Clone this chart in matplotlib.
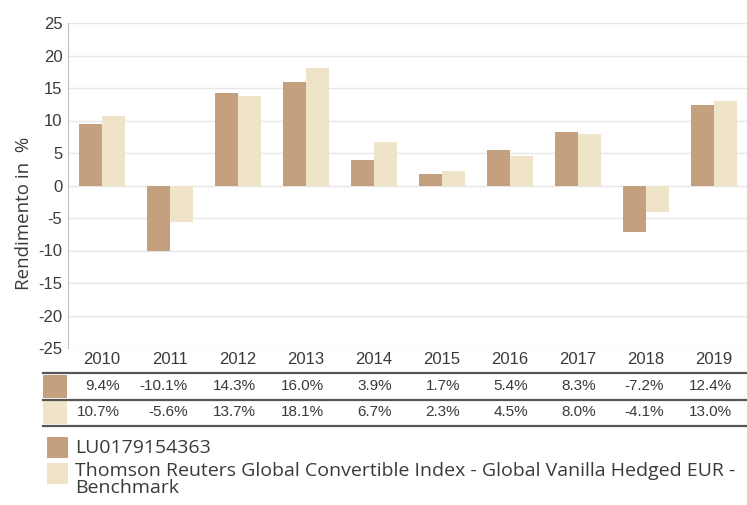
import numpy as np
import matplotlib
matplotlib.use("Agg")
import matplotlib.pyplot as plt
from matplotlib.patches import Rectangle
from matplotlib.lines import Line2D
import matplotlib.transforms as mtransforms

years = ["2010", "2011", "2012", "2013", "2014", "2015", "2016", "2017", "2018", "2019"]
fund = [9.4, -10.1, 14.3, 16.0, 3.9, 1.7, 5.4, 8.3, -7.2, 12.4]
bench = [10.7, -5.6, 13.7, 18.1, 6.7, 2.3, 4.5, 8.0, -4.1, 13.0]
fund_name = "LU0179154363"
bench_name = "Thomson Reuters Global Convertible Index - Global Vanilla Hedged EUR -\nBenchmark"
yticks = [-25, -20, -15, -10, -5, 0, 5, 10, 15, 20, 25]

c_fund = "#c4a07f"
c_bench = "#efe3c8"
txt = "#3a3a3a"

W, H = 747, 505
fig = plt.figure(figsize=(W / 100, H / 100), dpi=100)
ax = fig.add_axes([68 / W, 1 - 348 / H, 680 / W, 325 / H])

x = np.arange(len(years))
bw = 0.34
ax.bar(x - bw / 2 - 0.005, fund, bw, color=c_fund, zorder=3)
ax.bar(x + bw / 2 + 0.005, bench, bw, color=c_bench, zorder=3)

ax.set_xlim(-0.5, len(years) - 0.5)
ax.set_ylim(-25, 25)
ax.set_yticks(yticks)
ax.set_yticklabels([str(v) for v in yticks], fontsize=12, color=txt, family="Liberation Sans")
ax.set_xticks(x)
ax.set_xticklabels(years, fontsize=12, color=txt, family="Liberation Sans")
ax.tick_params(length=0, axis="both")
ax.tick_params(axis="x", pad=3)
ax.tick_params(axis="y", pad=4)
ax.grid(axis="y", color="#e6e6e6", lw=1, zorder=0)
for s in ["top", "right", "bottom"]:
    ax.spines[s].set_visible(False)
ax.spines["left"].set_color("#bfbfbf")
fig.text(24 / W, 1 - 213 / H, "Rendimento in  %", rotation=90, fontsize=13.5,
         color=txt, family="Open Sans", ha="center", va="center")

# data table under the chart
tr = mtransforms.blended_transform_factory(ax.transData, ax.transAxes)
px = 1 / 325
xl = -0.5 - 25 / 68
for yy in [-25 * px, -52 * px, -78 * px]:
    ax.add_line(Line2D([xl, len(years) - 0.5], [yy, yy], transform=tr,
                       color="#555555", lw=1.6, clip_on=False))
rows = [(fund, c_fund, -38 * px), (bench, c_bench, -64 * px)]
for vals, col, yy in rows:
    ax.add_patch(Rectangle((xl, yy - 11.5 * px), 24 / 68, 23 * px, transform=tr,
                           color=col, clip_on=False, lw=0))
    for i, v in enumerate(vals):
        ax.text(i + 18 / 68, yy, f"{v:.1f}%", transform=tr, ha="right", va="center",
                fontsize=11, color=txt, family="Liberation Sans")

# legend
fig.patches.append(Rectangle((47 / W, 1 - 458 / H), 21 / W, 21 / H,
                             transform=fig.transFigure, color=c_fund, lw=0))
fig.patches.append(Rectangle((47 / W, 1 - 484 / H), 21 / W, 21 / H,
                             transform=fig.transFigure, color=c_bench, lw=0))
fig.text(75 / W, 1 - 448 / H, fund_name, fontsize=14, color=txt, family="Open Sans",
         va="center", ha="left")
fig.text(75 / W, 1 - 462 / H, bench_name, fontsize=14, color=txt, family="Open Sans",
         va="top", ha="left", linespacing=0.95)

fig.savefig("out.png", dpi=100)
